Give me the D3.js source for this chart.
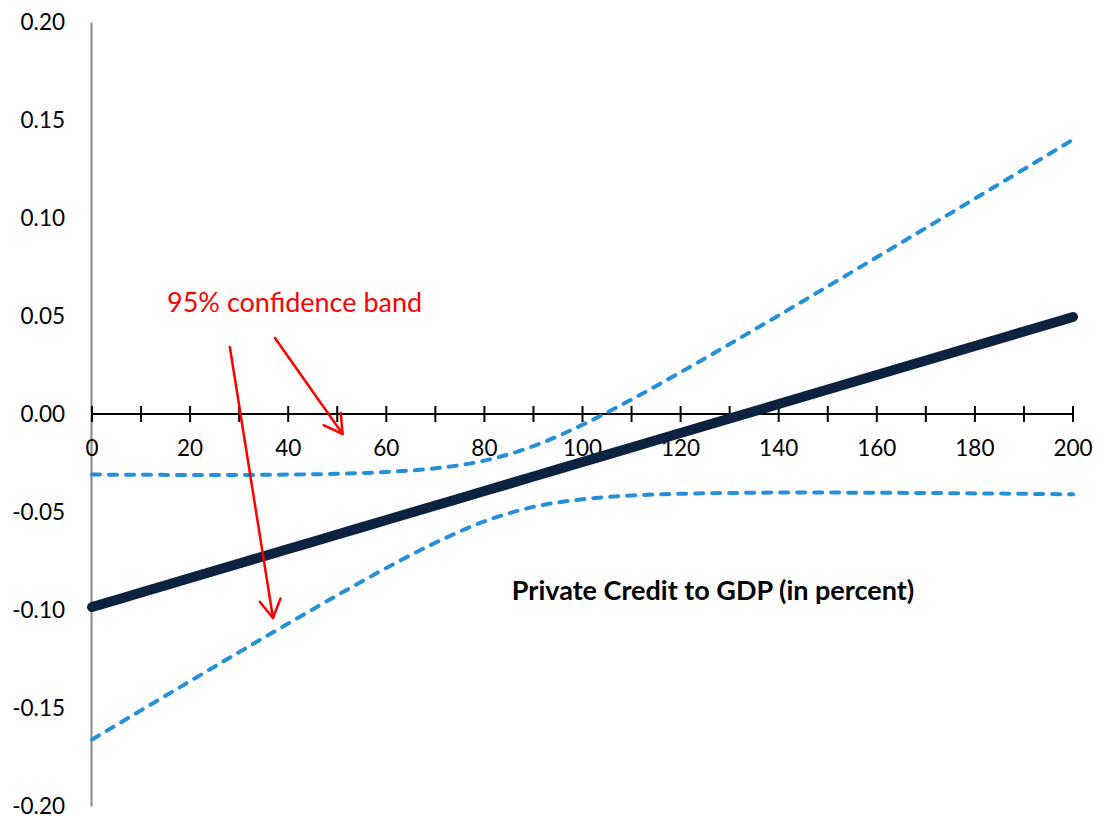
<!DOCTYPE html>
<html>
<head>
<meta charset="utf-8">
<script src="https://cdn.jsdelivr.net/npm/d3@7"></script>
<style>
  html, body { margin: 0; padding: 0; background: #fff; }
  svg { display: block; font-family: Lato, "Open Sans", sans-serif; }
</style>
</head>
<body>
<svg id="chart" width="1104" height="821"></svg>
<script>
// Private credit to GDP (percent)
const credit = [0, 10, 20, 30, 40, 50, 60, 70, 80, 90, 100, 110, 120, 130, 140, 150, 160, 170, 180, 190, 200];
// Estimated marginal effect
const effect = [-0.0985, -0.0911, -0.0837, -0.0763, -0.0689, -0.0615, -0.0541, -0.0467, -0.0393, -0.0319, -0.0245,
                -0.0171, -0.0097, -0.0023, 0.0051, 0.0125, 0.0199, 0.0273, 0.0347, 0.0421, 0.0495];
// 95% confidence band, upper and lower bounds
const upperBand = [-0.0309, -0.0310, -0.0311, -0.0311, -0.0309, -0.0305, -0.0296, -0.0277, -0.0238, -0.0164, -0.0055,
                   0.0074, 0.0213, 0.0357, 0.0503, 0.0651, 0.0800, 0.0949, 0.1099, 0.1249, 0.1400];
const lowerBand = [-0.1661, -0.1512, -0.1363, -0.1215, -0.1069, -0.0925, -0.0786, -0.0657, -0.0548, -0.0474, -0.0435,
                   -0.0416, -0.0407, -0.0403, -0.0401, -0.0401, -0.0402, -0.0403, -0.0405, -0.0407, -0.0410];

// Axis ticks
const yTicks = [-0.20, -0.15, -0.10, -0.05, 0.00, 0.05, 0.10, 0.15, 0.20];
const xMinorTicks = d3.range(0, 201, 10);
const xLabelTicks = [0, 20, 40, 60, 80, 100, 120, 140, 160, 180, 200];

// Annotation: label position and the two arrows (data units: credit, effect)
const noteText = "95% confidence band";
const notePos = [15.3, 0.0571];
const noteArrows = [
  { from: [28.1, 0.0342], to: [36.9, -0.1041] },
  { from: [37.3, 0.0388], to: [51.1, -0.0102] }
];
const xTitle = "Private Credit to GDP (in percent)";

const svg = d3.select("#chart");
const x = d3.scaleLinear().domain([0, 200]).range([92, 1073]);
const y = d3.scaleLinear().domain([-0.2, 0.2]).range([806, 22]);

// Vertical axis: grey rule with labels on the left
const yAxis = d3.axisLeft(y).tickValues(yTicks).tickSize(0).tickPadding(26)
  .tickFormat(d => (Math.abs(d) < 1e-9 ? 0 : d).toFixed(2));
const gy = svg.append("g").attr("transform", `translate(${x(0) - 1},0)`).call(yAxis);
gy.select(".domain").attr("stroke", "#878787").attr("stroke-width", 2);
gy.selectAll("text").attr("font-size", 22.5).attr("fill", "#000").style("font-family", "Lato, 'Open Sans', sans-serif");

// Horizontal axis at zero with crossing tick marks
const gx = svg.append("g");
gx.append("line")
  .attr("x1", x(0)).attr("x2", x(200))
  .attr("y1", y(0)).attr("y2", y(0))
  .attr("stroke", "#000").attr("stroke-width", 2);
gx.selectAll("line.tick").data(xMinorTicks).join("line")
  .attr("class", "tick")
  .attr("x1", d => x(d)).attr("x2", d => x(d))
  .attr("y1", y(0) - 8).attr("y2", y(0) + 8)
  .attr("stroke", "#000").attr("stroke-width", 2);
gx.selectAll("text").data(xLabelTicks).join("text")
  .attr("x", d => x(d)).attr("y", y(0) + 34)
  .attr("dy", "0.35em")
  .attr("text-anchor", "middle")
  .attr("font-size", 22.5)
  .attr("fill", "#000")
  .text(d => d);

// Lines
const line = d3.line().x((d, i) => x(credit[i])).y(d => y(d)).curve(d3.curveMonotoneX);

svg.append("path").datum(upperBand)
  .attr("d", line).attr("fill", "none")
  .attr("stroke", "#2590d8").attr("stroke-width", 4)
  .attr("stroke-dasharray", "8,9").attr("stroke-linecap", "round");
svg.append("path").datum(lowerBand)
  .attr("d", line).attr("fill", "none")
  .attr("stroke", "#2590d8").attr("stroke-width", 4)
  .attr("stroke-dasharray", "8,9").attr("stroke-linecap", "round");
svg.append("path").datum(effect)
  .attr("d", line).attr("fill", "none")
  .attr("stroke", "#0b2340").attr("stroke-width", 10)
  .attr("stroke-linecap", "round");

// Axis title
svg.append("text")
  .attr("x", 713).attr("y", 591).attr("dy", "0.35em")
  .attr("text-anchor", "middle")
  .attr("font-size", 27).attr("font-weight", "bold")
  .attr("fill", "#000")
  .text(xTitle);

// Annotation text and arrows
svg.append("text")
  .attr("x", x(notePos[0])).attr("y", y(notePos[1])).attr("dy", "0.35em")
  .attr("font-size", 27).attr("fill", "#ff0000")
  .text(noteText);

const ga = svg.append("g").attr("stroke", "#ff0000").attr("stroke-width", 2.5)
  .attr("fill", "none").attr("stroke-linecap", "round").attr("stroke-linejoin", "round");
noteArrows.forEach(a => {
  const x1 = x(a.from[0]), y1 = y(a.from[1]), x2 = x(a.to[0]), y2 = y(a.to[1]);
  ga.append("line").attr("x1", x1).attr("y1", y1).attr("x2", x2).attr("y2", y2);
  const ang = Math.atan2(y2 - y1, x2 - x1);
  const len = 21, spread = Math.PI / 6;
  const p = [
    [x2 - len * Math.cos(ang - spread), y2 - len * Math.sin(ang - spread)],
    [x2, y2],
    [x2 - len * Math.cos(ang + spread), y2 - len * Math.sin(ang + spread)]
  ];
  ga.append("path").attr("d", d3.line()(p));
});
</script>
</body>
</html>
